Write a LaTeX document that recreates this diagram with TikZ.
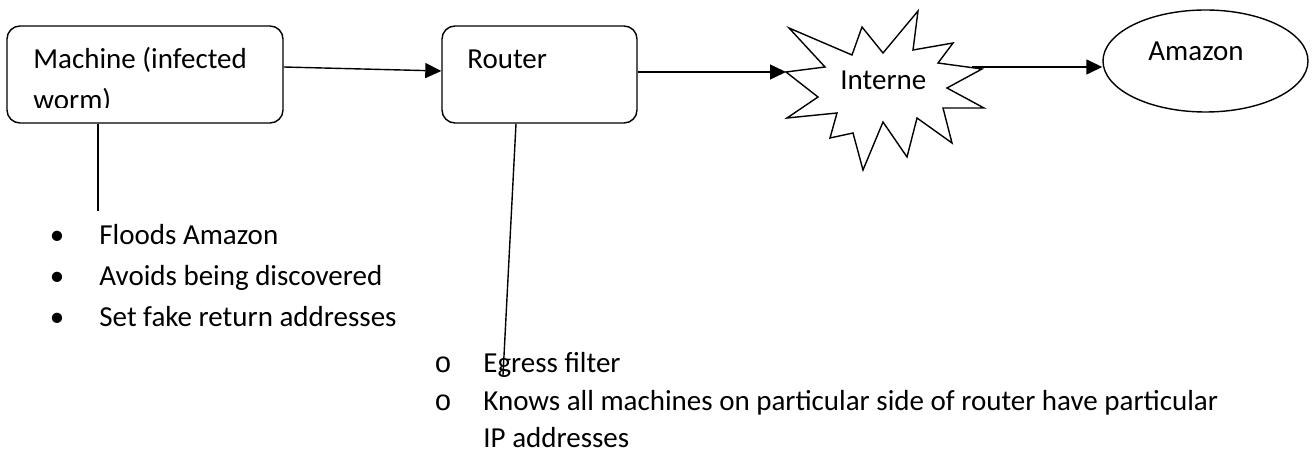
\documentclass[tikz,border=0pt]{standalone}
\usepackage{fontspec}
\setmainfont{Carlito}
\newfontfamily\monobullet{Liberation Mono}
\usetikzlibrary{arrows.meta,shapes.geometric}

\tikzset{
    box/.style={draw, line width=0.7pt, rounded corners=6.5pt, minimum height=48.5pt, inner sep=0pt},
    txt/.style={anchor=base west, inner sep=0pt, font=\fontsize{14.5}{17}\selectfont},
    bulletmark/.style={anchor=base, inner sep=0pt, font=\fontsize{14.5}{17}\selectfont},
    arr/.style={line width=0.7pt, -{Triangle[length=8pt,width=7.5pt]}},
    wire/.style={line width=0.7pt}
}

\begin{document}
\begin{tikzpicture}[x=0.5pt, y=-0.5pt]
    \useasboundingbox (0,0) rectangle (1313,454);

    % Boxes
    \node[box, minimum width=138pt] (machine) at (145,74.5) {};
    \node[box, minimum width=97.5pt] (router) at (539.5,74.5) {};
    \begin{scope}
        \clip (7,26) rectangle (283,108);
        \node[txt] (machinetxt) at (33,69) {Machine (infected};
        \node[txt] (wormtxt) at (33,110) {worm)};
    \end{scope}
    \node[txt] (routertxt) at (467,69) {Router};

    % Target
    \node[draw, ellipse, line width=0.7pt, minimum width=102.5pt, minimum height=51pt, inner sep=0pt] (amazon) at (1205.5,61) {};
    \node[txt] (amazontxt) at (1148,61) {Amazon};

    % Arrows
    \coordinate (netL) at (786,72);
    \coordinate (netR) at (972,67);
    \draw[arr] ([yshift=3.75pt]machine.east) -- ([yshift=1.75pt]router.west);
    \draw[arr] (router.east |- netL) -- (netL);
    \draw[arr] (netR) -- (amazon.west |- netR);

    % Internet
    \draw[wire, fill=white] (786,72) -- (825,67) -- (789,28) -- (852,55) -- (862,27)
        -- (883,53) -- (918,11) -- (913,50) -- (953,43) -- (938,63) -- (982,69)
        -- (947,88) -- (984,108) -- (943,108) -- (952,143) -- (917,118) -- (907,157)
        -- (883,122) -- (863,170) -- (853,133) -- (830,138) -- (837,113) -- (787,118)
        -- (818,97) -- cycle;
    \node[txt] (nettxt) at (840,90) {Interne};

    % Notes on the machine
    \coordinate (machinetail) at (98,211);
    \draw[wire] (machine.south -| machinetail) -- (machinetail);
    \foreach \y/\t [count=\i] in {245/Floods Amazon, 286/Avoids being discovered, 327/Set fake return addresses} {
        \node[bulletmark] (mdot\i) at (57,\y) {\textbullet};
        \node[txt] (mnote\i) at (99,\y) {\t};
    }

    % Notes on the router
    \coordinate (routertail) at (503,375);
    \draw[wire] ([xshift=-11.75pt]router.south) -- (routertail);
    \node[bulletmark, font=\monobullet\fontsize{14.5}{17}\selectfont] (rdot1) at (443,372) {o};
    \node[txt] (rnote1) at (483,372) {Egress filter};
    \node[bulletmark, font=\monobullet\fontsize{14.5}{17}\selectfont] (rdot2) at (443,410) {o};
    \node[txt] (rnote2) at (483,410) {Knows all machines on particular side of router have particular};
    \node[txt] (rnote3) at (483,447) {IP addresses};
\end{tikzpicture}
\end{document}
